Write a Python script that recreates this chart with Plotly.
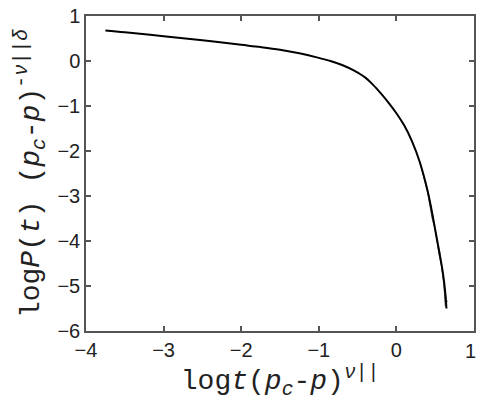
import plotly.graph_objects as go

# ── Data: scaled survival probability collapse ──────────────
x_main = [-3.75, -3.5, -3.0, -2.5, -2.0, -1.75, -1.5, -1.25, -1.0, -0.85, -0.7,
          -0.55, -0.4, -0.3, -0.2, -0.1, 0.0, 0.1, 0.2, 0.3, 0.4, 0.45, 0.5,
          0.55, 0.6, 0.63, 0.645]
y_main = [0.68, 0.64, 0.55, 0.46, 0.36, 0.31, 0.25, 0.17, 0.07, 0.0, -0.09,
          -0.21, -0.37, -0.53, -0.72, -0.93, -1.16, -1.43, -1.78, -2.24, -2.87, -3.28, -3.75,
          -4.22, -4.72, -5.15, -5.5]

# noisier tails of the other system sizes
x_tail_a = [0.3, 0.4, 0.47, 0.52, 0.56, 0.6, 0.62, 0.64, 0.66]
y_tail_a = [-2.24, -2.85, -3.45, -3.95, -4.25, -4.75, -5.0, -5.3, -5.35]
x_tail_b = [0.3, 0.4, 0.46, 0.5, 0.55, 0.58, 0.61, 0.63, 0.64]
y_tail_b = [-2.24, -2.9, -3.5, -3.75, -4.3, -4.55, -4.95, -5.45, -5.45]

x_ticks = [-4, -3, -2, -1, 0, 1]
x_ticktext = ["\u22124", "\u22123", "\u22122", "\u22121", "0", "1"]
y_ticks = [-6, -5, -4, -3, -2, -1, 0, 1]
y_ticktext = ["\u22126", "\u22125", "\u22124", "\u22123", "\u22122", "\u22121", "0", "1"]

fig = go.Figure()
fig.add_trace(go.Scatter(x=x_tail_a, y=y_tail_a, mode="lines",
                         line=dict(color="#777777", width=1)))
fig.add_trace(go.Scatter(x=x_tail_b, y=y_tail_b, mode="lines",
                         line=dict(color="#555555", width=1)))
fig.add_trace(go.Scatter(x=x_main, y=y_main, mode="lines",
                         line=dict(color="black", width=2, shape="spline", smoothing=1)))

tick_font = dict(family="Liberation Sans", size=20, color="#222222")

axis_style = dict(
    showline=True, linecolor="#555555", linewidth=1.5, mirror="ticks",
    ticks="inside", ticklen=5, tickwidth=1.5, tickcolor="#555555",
    showgrid=False, zeroline=False, automargin=False,
    ticklabeloverflow="allow",
    tickfont=tick_font,
)

title_font = dict(family="Liberation Mono", size=28, color="#222222")

# the last x tick label gets lost at the plot edge, so write it as an annotation
fig.add_annotation(x=x_ticks[-1], xref="x", y=0, yref="paper",
                   text=x_ticktext[-1], showarrow=False, font=tick_font,
                   xanchor="right", yanchor="middle", xshift=4, yshift=-20)

fig.update_layout(
    width=485, height=415,
    plot_bgcolor="white", paper_bgcolor="white",
    showlegend=False,
    margin=dict(l=86, r=11, t=16, b=84),
    xaxis=dict(
        range=[-4, 1], tickvals=x_ticks, ticktext=x_ticktext[:-1] + [""],
        title=dict(
            text="log<i>t</i>(<i>p<sub>c</sub></i>-<i>p</i>)<sup><i>\u03bd</i>||</sup>",
            font=title_font, standoff=10,
        ),
        **axis_style,
    ),
    yaxis=dict(
        range=[-6, 1], tickvals=y_ticks, ticktext=y_ticktext,
        title=dict(
            text="log<i>P</i>(<i>t</i>) (<i>p<sub>c</sub></i>-<i>p</i>)<sup>-<i>\u03bd</i>||<i>\u03b4</i></sup>",
            font=title_font, standoff=10,
        ),
        **axis_style,
    ),
)

# drop the default body margin and scrollbars so the figure fills the window
fig.write_html("out.html", config={"displayModeBar": False},
               post_script="document.body.style.margin='0';"
                           "document.body.style.overflow='hidden';")
